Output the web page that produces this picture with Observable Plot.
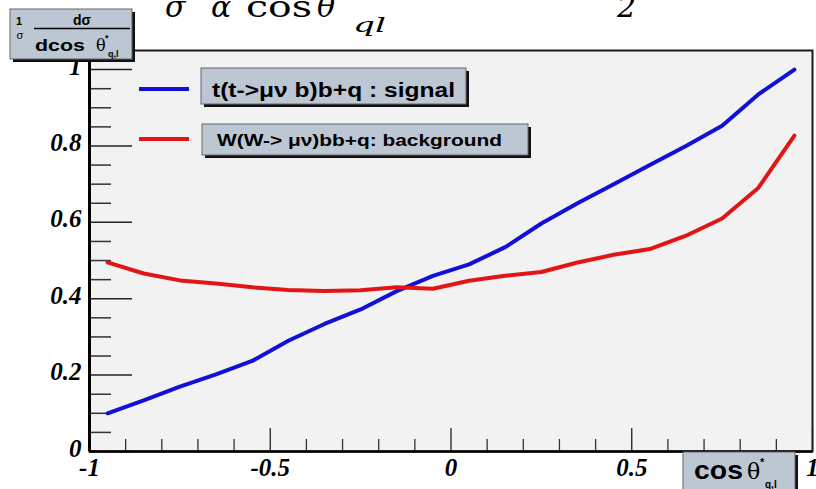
<!DOCTYPE html>
<html>
<head>
<meta charset="utf-8">
<script src="https://cdn.jsdelivr.net/npm/d3@7"></script>
<script src="https://cdn.jsdelivr.net/npm/@observablehq/plot@0.6"></script>
<style>
  html, body { margin: 0; padding: 0; background: #fff; }
  #chart { width: 816px; height: 489px; overflow: hidden; }
</style>
</head>
<body>
<div id="chart"></div>
<script>
// Bin centres of cos(theta*_q,l) and normalised distributions
const binCenters = [-0.95, -0.85, -0.75, -0.65, -0.55, -0.45, -0.35, -0.25, -0.15, -0.05,
                    0.05, 0.15, 0.25, 0.35, 0.45, 0.55, 0.65, 0.75, 0.85, 0.95];
const signal = [0.100, 0.134, 0.170, 0.202, 0.237, 0.290, 0.334, 0.372, 0.420, 0.460,
                0.490, 0.535, 0.597, 0.650, 0.700, 0.750, 0.800, 0.853, 0.935, 1.000];
const background = [0.495, 0.466, 0.448, 0.440, 0.430, 0.423, 0.420, 0.422, 0.430, 0.426,
                    0.447, 0.460, 0.470, 0.495, 0.515, 0.530, 0.565, 0.610, 0.690, 0.827];

// Axis ticks
const yMajor = [0, 0.2, 0.4, 0.6, 0.8, 1];
const yMinor = [0.05, 0.1, 0.15, 0.25, 0.3, 0.35, 0.45, 0.5, 0.55, 0.65, 0.7, 0.75, 0.85, 0.9, 0.95];
const yLabels = ["0", "0.2", "0.4", "0.6", "0.8", "1"];
const xMajor = [-1, -0.5, 0, 0.5, 1];
const xMinor = [-0.9, -0.8, -0.7, -0.6, -0.4, -0.3, -0.2, -0.1, 0.1, 0.2, 0.3, 0.4, 0.6, 0.7, 0.8, 0.9];
const xLabels = ["-1", "-0.5", "0", "0.5", "1"];

const seriesNames = ["t(t->\u03bc\u03bd b)b+q : signal", "W(W-> \u03bc\u03bd)bb+q: background"];
const seriesColors = ["#1010d8", "#e41414"];

const rows = binCenters.flatMap((x, i) => [
  {x, y: signal[i], series: seriesNames[0]},
  {x, y: background[i], series: seriesNames[1]}
]);

const labelFont = {fontFamily: "'Liberation Serif', serif", fontSize: 25, fontWeight: "bold", fontStyle: "italic"};

const chart = Plot.plot({
  width: 816,
  height: 489,
  marginLeft: 89,
  marginRight: 4,
  marginTop: 50,
  marginBottom: 38,
  style: {background: "#fff", overflow: "visible", color: "#000"},
  x: {domain: [-1, 1]},
  y: {domain: [0, 1.05]},
  color: {domain: seriesNames, range: seriesColors},
  marks: [
    Plot.frame({fill: "#f2f2f2", stroke: "#1a1a1a", strokeWidth: 2}),
    // inward ticks
    Plot.axisY(yMinor, {anchor: "left", tickSize: -22, fill: "none", stroke: "#333", strokeWidth: 1.5, label: null}),
    Plot.axisY(yMajor, {anchor: "left", tickSize: -43, fill: "none", stroke: "#222", strokeWidth: 1.5, label: null}),
    Plot.axisX(xMinor, {anchor: "bottom", tickSize: -12, fill: "none", stroke: "#333", strokeWidth: 1.3, label: null}),
    Plot.axisX(xMajor, {anchor: "bottom", tickSize: -23, fill: "none", stroke: "#222", strokeWidth: 1.3, label: null}),
    // tick labels
    Plot.axisY(yMajor, {anchor: "left", tickSize: 0, tickPadding: 8, dy: -3, label: null,
      tickFormat: (d, i) => yLabels[i], ...labelFont}),
    Plot.axisX(xMajor, {anchor: "bottom", tickSize: 0, tickPadding: 7, label: null,
      tickFormat: (d, i) => xLabels[i], ...labelFont}),
    // axis lines
    Plot.ruleX([-1], {stroke: "#000", strokeWidth: 3}),
    Plot.ruleY([0], {stroke: "#000", strokeWidth: 2.5}),
    // curves
    Plot.line(rows, {x: "x", y: "y", z: "series", stroke: "series", strokeWidth: 4, strokeLinejoin: "round", strokeLinecap: "round"})
  ]
});

document.getElementById("chart").appendChild(chart);

// Annotations: title, axis-title boxes and legend
const svg = d3.select(chart);
const g = svg.append("g");
const boxFill = "#bcc7d3";

function box(x, y, w, h) {
  g.append("rect").attr("x", x + 3).attr("y", y + 3).attr("width", w).attr("height", h).attr("fill", "#111");
  g.append("rect").attr("x", x).attr("y", y).attr("width", w).attr("height", h)
    .attr("fill", boxFill).attr("stroke", "#666").attr("stroke-width", 1);
}
function txt(x, y, s, size, opts = {}) {
  const t = g.append("text").attr("x", x).attr("y", y).text(s)
    .attr("font-size", size)
    .attr("font-family", opts.family || "'Liberation Sans', Arial, sans-serif")
    .attr("font-weight", opts.weight || "bold")
    .attr("font-style", opts.style || "normal")
    .attr("text-anchor", opts.anchor || "start")
    .attr("fill", "#000");
  if (opts.length) t.attr("textLength", opts.length).attr("lengthAdjust", "spacingAndGlyphs");
  return t;
}

// title (partially above the canvas)
const serif = "'DejaVu Serif', 'Liberation Serif', serif";
txt(165, 17, "\u03c3", 30, {family: serif, weight: "normal", style: "italic"});
txt(211, 17, "\u03b1", 30, {family: serif, weight: "normal", style: "italic"});
txt(246, 17, "cos", 30, {family: serif, weight: "normal", length: 66});
txt(317, 17, "\u03b8", 30, {family: serif, weight: "normal", style: "italic"});
txt(337, 4, "*", 18, {family: serif, weight: "normal"});
txt(353, 32, "ql", 21, {family: serif, weight: "normal", style: "italic", length: 33});
txt(617, 17, "2", 30, {family: serif, weight: "normal", style: "italic"});

// y-axis title box
box(10, 9, 122, 50);
txt(19, 25, "1", 11, {anchor: "middle"});
txt(20, 39, "\u03c3", 11, {anchor: "middle", weight: "normal"});
g.append("line").attr("x1", 34).attr("x2", 130).attr("y1", 28.5).attr("y2", 28.5).attr("stroke", "#000").attr("stroke-width", 1.5);
txt(82, 25, "d\u03c3", 14, {anchor: "middle"});
txt(35, 51, "dcos", 17, {length: 50});
txt(96, 51, "\u03b8", 16, {family: serif, weight: "normal"});
txt(105, 41, "*", 9);
txt(108, 57, "q,l", 9);

// x-axis title box
box(683, 452, 112, 42);
txt(694, 479, "cos", 25, {length: 49});
txt(747, 479, "\u03b8", 22, {family: serif, weight: "normal"});
txt(760, 466, "*", 11);
txt(765, 488, "q,l", 10);

// legend
const legendRows = [
  {x: 201, y: 68, w: 265, h: 36, lineY: 89, textX: 212, textY: 97, size: 20, length: 243},
  {x: 202, y: 124, w: 326, h: 31, lineY: 139, textX: 217, textY: 146, size: 16.5, length: 285}
];
legendRows.forEach((r, i) => {
  g.append("line").attr("x1", 139).attr("x2", 189).attr("y1", r.lineY).attr("y2", r.lineY)
    .attr("stroke", seriesColors[i]).attr("stroke-width", 4);
  box(r.x, r.y, r.w, r.h);
  txt(r.textX, r.textY, seriesNames[i], r.size, {length: r.length});
});
</script>
</body>
</html>
